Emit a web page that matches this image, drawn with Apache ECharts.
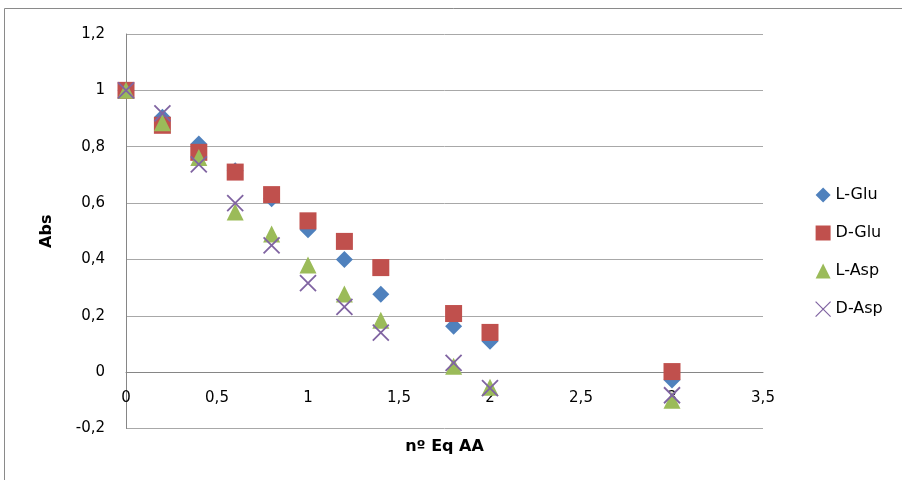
<!DOCTYPE html>
<html>
<head>
<meta charset="utf-8">
<script src="https://cdn.jsdelivr.net/npm/echarts@6/dist/echarts.min.js"></script>
<style>
html,body{margin:0;padding:0;background:#fff;}
#c{width:902px;height:480px;}
</style>
</head>
<body>
<div id="c"></div>
<script>
const xValues = [0, 0.2, 0.4, 0.6, 0.8, 1.0, 1.2, 1.4, 1.8, 2.0, 3.0];
const lGlu = [1.0, 0.905, 0.81, 0.715, 0.615, 0.505, 0.40, 0.276, 0.163, 0.11, -0.028];
const dGlu = [1.0, 0.876, 0.78, 0.71, 0.63, 0.537, 0.464, 0.371, 0.208, 0.141, 0.002];
const lAsp = [1.0, 0.885, 0.762, 0.568, 0.49, 0.38, 0.277, 0.184, 0.021, -0.054, -0.10];
const dAsp = [1.0, 0.918, 0.737, 0.600, 0.45, 0.316, 0.232, 0.14, 0.033, -0.057, -0.082];
const seriesNames = ['L-Glu', 'D-Glu', 'L-Asp', 'D-Asp'];
const xAxisTitle = 'nº Eq AA';
const yAxisTitle = 'Abs';

const FONT = 'DejaVu Sans';
const fmt = v => String(parseFloat(v.toFixed(2))).replace('.', ',');
const pairs = arr => arr.map((v, i) => [xValues[i], v]);
const xPath = 'path://M0,0L10,10M10,0L0,10';

const GRID = {left: 126, right: 139, top: 34, bottom: 51.5};
const Y_MIN = -0.2, Y_MAX = 1.2;
const plotH = 480 - GRID.top - GRID.bottom;
// move the x axis up to the y = 0 position of the value scale
const xAxisOffset = -plotH * (0 - Y_MIN) / (Y_MAX - Y_MIN);

const chart = echarts.init(document.getElementById('c'), null, {renderer: 'canvas'});
chart.setOption({
  animation: false,
  backgroundColor: '#fff',
  textStyle: {fontFamily: FONT},
  graphic: [{
    type: 'rect', z: -1, silent: true,
    shape: {x: 4.5, y: 8.5, width: 1000, height: 1000},
    style: {fill: 'none', stroke: '#8a8a8a', lineWidth: 1}
  }],
  grid: Object.assign({containLabel: false, outerBoundsMode: 'none'}, GRID),
  xAxis: {
    type: 'value', min: 0, max: 3.5, interval: 0.5,
    position: 'bottom', offset: xAxisOffset,
    name: xAxisTitle, nameLocation: 'middle', nameGap: 67,
    nameTextStyle: {fontFamily: FONT, fontSize: 16, fontWeight: 'bold', color: '#000'},
    axisLine: {show: true, onZero: false, lineStyle: {color: '#868686', width: 1}},
    axisTick: {show: false},
    splitLine: {show: false},
    axisLabel: {margin: 18, fontSize: 15, fontFamily: FONT, color: '#000', formatter: fmt}
  },
  yAxis: {
    type: 'value', min: Y_MIN, max: Y_MAX, interval: 0.2,
    name: yAxisTitle, nameLocation: 'middle', nameGap: 71, nameRotate: 90,
    nameTextStyle: {fontFamily: FONT, fontSize: 16, fontWeight: 'bold', color: '#000'},
    axisLine: {show: true, onZero: false, lineStyle: {color: '#868686', width: 1}},
    axisTick: {show: false},
    splitLine: {show: true, lineStyle: {color: '#a8a8a8', width: 1}},
    axisLabel: {margin: 21, fontSize: 15, fontFamily: FONT, color: '#000', formatter: fmt}
  },
  legend: {
    orient: 'vertical', left: 810, top: 182, itemGap: 22,
    itemWidth: 15, itemHeight: 15,
    textStyle: {fontFamily: FONT, fontSize: 16, color: '#000', lineHeight: 16},
    data: [
      {name: seriesNames[0], icon: 'diamond', itemStyle: {color: '#4F81BD'}},
      {name: seriesNames[1], icon: 'rect', itemStyle: {color: '#C0504D'}},
      {name: seriesNames[2], icon: 'triangle', itemStyle: {color: '#9BBB59'}},
      {name: seriesNames[3], icon: xPath, itemStyle: {color: 'rgba(0,0,0,0)', borderColor: '#8064A2', borderWidth: 1.2}}
    ]
  },
  series: [
    {name: seriesNames[0], type: 'scatter', symbol: 'diamond', symbolSize: 17,
     itemStyle: {color: '#4F81BD', opacity: 1}, data: pairs(lGlu)},
    {name: seriesNames[1], type: 'scatter', symbol: 'rect', symbolSize: 17,
     itemStyle: {color: '#C0504D', opacity: 1}, data: pairs(dGlu)},
    {name: seriesNames[2], type: 'scatter', symbol: 'triangle', symbolSize: 17,
     itemStyle: {color: '#9BBB59', opacity: 1}, data: pairs(lAsp)},
    {name: seriesNames[3], type: 'scatter', symbol: xPath, symbolSize: 16,
     itemStyle: {color: 'rgba(0,0,0,0)', borderColor: '#8064A2', borderWidth: 1.8, opacity: 1}, data: pairs(dAsp)}
  ]
});
</script>
</body>
</html>
